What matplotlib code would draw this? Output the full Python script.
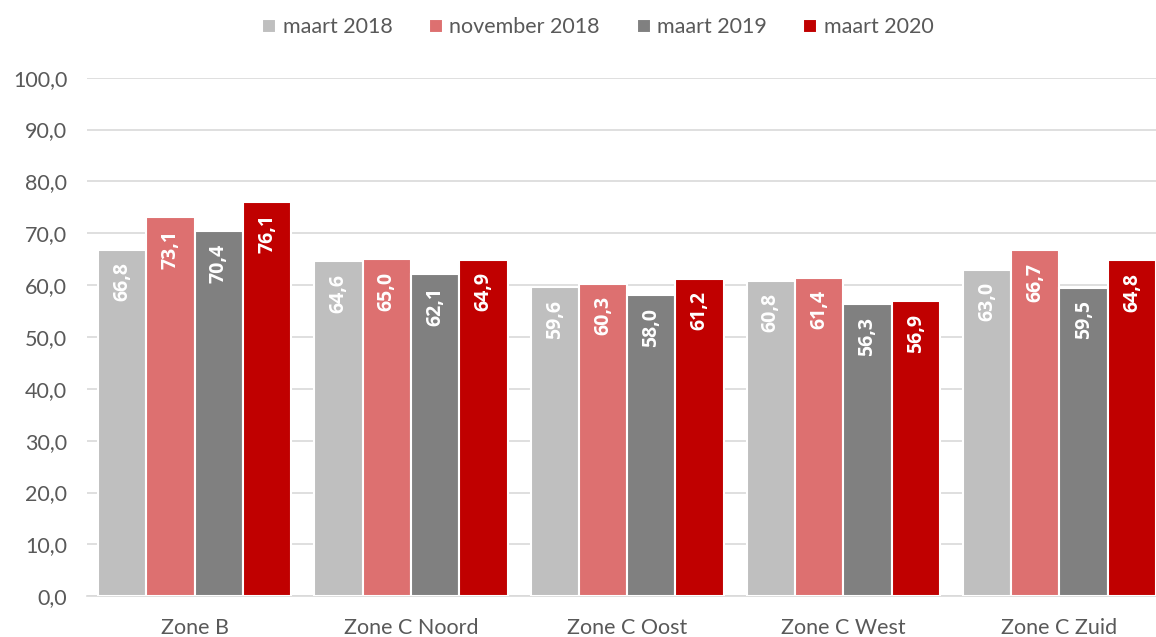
import numpy as np
import matplotlib.pyplot as plt

plt.rcParams['font.family'] = ['Lato', 'DejaVu Sans']

# Data
zones = ['Zone B', 'Zone C Noord', 'Zone C Oost', 'Zone C West', 'Zone C Zuid']
series = ['maart 2018', 'november 2018', 'maart 2019', 'maart 2020']
maart_2018 = [66.8, 64.6, 59.6, 60.8, 63.0]
november_2018 = [73.1, 65.0, 60.3, 61.4, 66.7]
maart_2019 = [70.4, 62.1, 58.0, 56.3, 59.5]
maart_2020 = [76.1, 64.9, 61.2, 56.9, 64.8]
colors = ['#BFBFBF', '#DD7070', '#808080', '#C00000']

values = [maart_2018, november_2018, maart_2019, maart_2020]

fig = plt.figure(figsize=(11.56, 6.37), dpi=100)
ax = fig.add_axes([0.075, 0.064, 0.935, 0.814])

x = np.arange(len(zones))
width = 0.2235
for i, (name, vals, col) in enumerate(zip(series, values, colors)):
    pos = x + (i - 1.5) * width
    bars = ax.bar(pos, vals, width, color=col, edgecolor='white', linewidth=1.5,
                  label=name, zorder=3)
    for b, v in zip(bars, vals):
        ax.annotate(f'{v:.1f}'.replace('.', ','),
                    (b.get_x() + b.get_width() / 2, v),
                    xytext=(0, -9), textcoords='offset points',
                    rotation=90, ha='center', va='top',
                    color='white', fontsize=14, fontweight='bold',
                    family=['Open Sans', 'DejaVu Sans'], zorder=4)

ax.set_xlim(-0.5, len(zones) - 0.5)
ax.set_ylim(0, 100)
ax.set_yticks(np.arange(0, 101, 10))
ax.set_yticklabels([f'{t:.1f}'.replace('.', ',') for t in np.arange(0, 101, 10)])
ax.set_xticks(x)
ax.set_xticklabels(zones)
ax.tick_params(axis='both', length=0, labelsize=15.5, colors='#595959')
ax.tick_params(axis='x', pad=16)
ax.tick_params(axis='y', pad=14)
ax.grid(axis='y', color='#D9D9D9', linewidth=1.2, zorder=0)
for s in ['top', 'right', 'left']:
    ax.spines[s].set_visible(False)
ax.spines['bottom'].set_color('#D9D9D9')
ax.spines['bottom'].set_linewidth(1.2)

ax.legend(loc='center', bbox_to_anchor=(0.473, 1.097), ncol=4, frameon=False,
          fontsize=15.5, labelcolor='#595959', handlelength=0.65, handleheight=0.65,
          handletextpad=0.3, columnspacing=1.7)

fig.savefig('out.png', dpi=100)
